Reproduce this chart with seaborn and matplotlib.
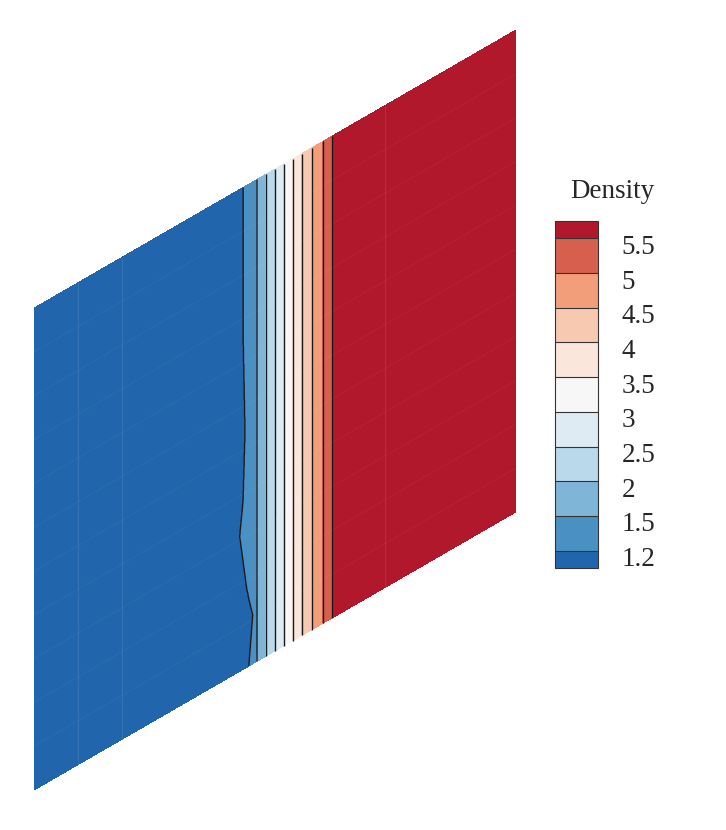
import numpy as np
import matplotlib
matplotlib.use("Agg")
import matplotlib.pyplot as plt
import matplotlib.transforms as mtransforms
from matplotlib.colors import ListedColormap, BoundaryNorm
from matplotlib.cm import ScalarMappable
import seaborn as sns

# ---------------- data ----------------
levels = [1.2, 1.5, 2.0, 2.5, 3.0, 3.5, 4.0, 4.5, 5.0, 5.5]
level_labels = ["1.2", "1.5", "2", "2.5", "3", "3.5", "4", "4.5", "5", "5.5"]
# fraction of the domain width where the density crosses each level
crossing_x = [0.4336, 0.4627, 0.4813, 0.5000, 0.5187, 0.5373, 0.5560, 0.5768, 0.5996, 0.6183]
rho_left = 1.0
rho_right = 5.75
# wiggle of the 1.2 contour along the (skewed) height of the domain
wiggle_s = [0.0, 0.10, 0.16, 0.28, 0.35, 0.49, 0.70, 1.0]
wiggle_x = [0.446, 0.454, 0.442, 0.427, 0.434, 0.438, 0.434, 0.434]

band_colors = ["#2166ac", "#4a90c2", "#7fb5d7", "#bad9ea", "#deebf3", "#f7f7f7",
               "#fbe6dc", "#f8c9b1", "#f29e7b", "#d6604d", "#b2182b"]
skew_deg = 30.0
mesh_cells = 11
block_lines = [1, 2, 8]

# ---------------- style ----------------
sns.set_theme(style="white")
plt.rcParams["font.family"] = ["Liberation Serif", "DejaVu Serif"]

palette = sns.color_palette(band_colors)
cmap = ListedColormap(palette)

# ---------------- field ----------------
tn = np.tan(np.radians(skew_deg))
u = np.linspace(0, 1, 1400)
s = np.linspace(0, 1, 300)
U, S = np.meshgrid(u, s)
rho = np.empty_like(U)
for j, sj in enumerate(s):
    x12 = np.interp(sj, wiggle_s, wiggle_x)
    nx = [0.0, x12] + crossing_x[1:] + [1.0]
    nv = [rho_left] + levels + [rho_right]
    rho[j] = np.interp(u, nx, nv)
X = U
Y = S + U * tn

# ---------------- figure ----------------
W, H = 726, 830
fig = plt.figure(figsize=(W / 100, H / 100), dpi=100)
ax = fig.add_axes([34 / W, 40 / H, 482 / W, 760 / H])
fill_levels = [-1e3] + levels + [1e3]
ax.contourf(X, Y, rho, levels=fill_levels, colors=palette)
ax.contour(X, Y, rho, levels=levels, colors="#1a1a1a", linewidths=1.0)

# faint mesh lines
for k in range(1, mesh_cells):
    ax.plot([0, 1], [k / mesh_cells, k / mesh_cells + tn], color="white",
            alpha=0.045, lw=0.7)
for k in block_lines:
    xx = k / mesh_cells
    ax.plot([xx, xx], [xx * tn, 1 + xx * tn], color="white", alpha=0.09, lw=0.8)

ax.set_xlim(0, 1)
ax.set_ylim(0, 1 + tn)
ax.axis("off")

# ---------------- legend ----------------
cax = fig.add_axes([555 / W, (H - 568) / H, 43 / W, 347 / H])
bounds = [-0.5] + list(range(len(levels))) + [len(levels) - 0.5]
norm = BoundaryNorm(bounds, cmap.N)
sm = ScalarMappable(norm=norm, cmap=cmap)
cb = fig.colorbar(sm, cax=cax, boundaries=bounds, ticks=list(range(len(levels))),
                  drawedges=True, spacing="proportional")
cb.set_ticklabels(level_labels)
cax.minorticks_off()
cb.outline.set_linewidth(0.8)
cb.outline.set_edgecolor("#333333")
cb.dividers.set_color("#333333")
cb.dividers.set_linewidth(0.8)
cax.tick_params(which="both", length=0, pad=17, labelsize=19.5)
offset = mtransforms.ScaledTranslation(0, -6 / 100, fig.dpi_scale_trans)
for lab in cax.get_yticklabels():
    lab.set_transform(lab.get_transform() + offset)

fig.text(612 / W, 1 - 198 / H, "Density", ha="center", va="baseline", fontsize=19.5)

fig.savefig("out.png", dpi=100)
